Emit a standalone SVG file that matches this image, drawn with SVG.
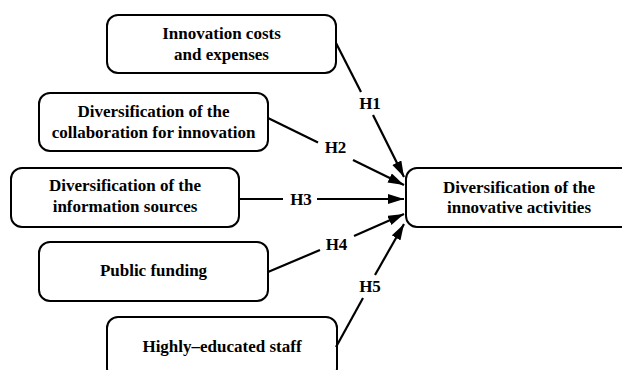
<svg xmlns="http://www.w3.org/2000/svg" width="622" height="370" viewBox="0 0 622 370">
<style>
.box{fill:#fff;stroke:#000;stroke-width:2}
.t{font-family:"Liberation Serif","Times New Roman",serif;font-weight:bold;font-size:17px;fill:#000;text-anchor:middle}
.c{stroke:#000;stroke-width:2.2;fill:none}
</style>
<defs>
<marker id="ah" markerUnits="userSpaceOnUse" markerWidth="17" markerHeight="11" refX="16" refY="5" orient="auto">
<path d="M0,0 L16,5 L0,10 z" fill="#000"/>
</marker>
</defs>
<rect width="622" height="370" fill="#fff"/>
<g id="n1">
<rect class="box" x="107" y="15" width="229" height="58" rx="11"/>
<text class="t" x="221.5" y="39">Innovation costs</text>
<text class="t" x="221.5" y="60">and expenses</text>
</g>
<g id="n2">
<rect class="box" x="39" y="93" width="229" height="58" rx="11"/>
<text class="t" x="153.5" y="117">Diversification of the</text>
<text class="t" x="153.5" y="138">collaboration for innovation</text>
</g>
<g id="n3">
<rect class="box" x="11" y="168" width="228" height="59" rx="11"/>
<text class="t" x="125" y="191">Diversification of the</text>
<text class="t" x="125" y="212">information sources</text>
</g>
<g id="n4">
<rect class="box" x="39" y="242" width="229" height="59" rx="11"/>
<text class="t" x="153.5" y="276">Public funding</text>
</g>
<g id="n5">
<rect class="box" x="107" y="317" width="230" height="62" rx="11"/>
<text class="t" x="222" y="352">Highly–educated staff</text>
</g>
<g id="target">
<rect class="box" x="406" y="168" width="228" height="59" rx="11"/>
<text class="t" x="519" y="193">Diversification of the</text>
<text class="t" x="519" y="213">innovative activities</text>
</g>
<g id="connectors">
<line class="c" x1="336" y1="43" x2="361" y2="92"/>
<line class="c" x1="373" y1="115" x2="404" y2="177" marker-end="url(#ah)"/>
<text class="t" x="370" y="109">H1</text>
<line class="c" x1="268" y1="118" x2="318" y2="142.6"/>
<line class="c" x1="353" y1="160" x2="404" y2="185" marker-end="url(#ah)"/>
<text class="t" x="335.5" y="153">H2</text>
<line class="c" x1="239" y1="199" x2="283" y2="199"/>
<line class="c" x1="317" y1="199" x2="404" y2="199" marker-end="url(#ah)"/>
<text class="t" x="301" y="205">H3</text>
<line class="c" x1="268" y1="272" x2="320" y2="250"/>
<line class="c" x1="354" y1="236" x2="404" y2="214" marker-end="url(#ah)"/>
<text class="t" x="336.5" y="250">H4</text>
<line class="c" x1="336" y1="347" x2="363" y2="298"/>
<line class="c" x1="375" y1="275" x2="404" y2="224" marker-end="url(#ah)"/>
<text class="t" x="370" y="292">H5</text>
</g>
</svg>
